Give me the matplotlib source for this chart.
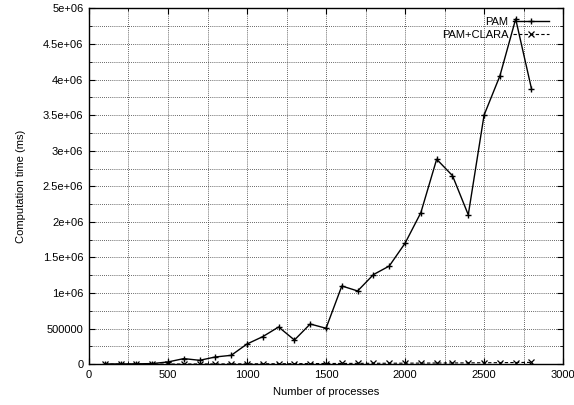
import matplotlib
matplotlib.use("Agg")
import matplotlib.pyplot as plt
from matplotlib.ticker import MultipleLocator, FixedLocator, FixedFormatter

plt.rcParams['font.family'] = ['Liberation Sans', 'DejaVu Sans']
plt.rcParams['font.size'] = 8

processes = [100, 200, 300, 400, 500, 600, 700, 800, 900, 1000,
             1100, 1200, 1300, 1400, 1500, 1600, 1700, 1800, 1900, 2000,
             2100, 2200, 2300, 2400, 2500, 2600, 2700, 2800]
pam = [4000, 5000, 6000, 10000, 33000, 80000, 56000, 103000, 126000, 285000,
       389000, 524000, 341000, 566000, 506000, 1100000, 1030000, 1260000, 1380000, 1700000,
       2130000, 2880000, 2650000, 2100000, 3500000, 4050000, 4850000, 3870000]
pam_clara = [1000, 1500, 2000, 2500, 3000, 4000, 5000, 5000, 6000, 7000,
             7500, 8000, 9000, 10000, 11000, 12000, 13000, 14000, 15000, 16000,
             17000, 18000, 19000, 20000, 22000, 23000, 25000, 27000]

x_ticks = [0, 500, 1000, 1500, 2000, 2500, 3000]
x_tick_labels = ["0", "500", "1000", "1500", "2000", "2500", "3000"]
y_ticks = [0, 500000, 1000000, 1500000, 2000000, 2500000, 3000000,
           3500000, 4000000, 4500000, 5000000]
y_tick_labels = ["0", "500000", "1e+06", "1.5e+06", "2e+06", "2.5e+06", "3e+06",
                 "3.5e+06", "4e+06", "4.5e+06", "5e+06"]

fig = plt.figure(figsize=(5.74, 4.05), dpi=100)
ax = fig.add_axes([0.155, 0.1005, 0.826, 0.879])

ax.plot(processes, pam, color='black', linewidth=1.0, marker='+',
        markersize=5, markeredgewidth=1.0, label='PAM')
ax.plot(processes, pam_clara, color='black', linewidth=0.8, linestyle=(0, (3, 2)),
        marker='x', markersize=4, markeredgewidth=0.9, label='PAM+CLARA')

ax.set_xlim(0, 3000)
ax.set_ylim(0, 5000000)
ax.xaxis.set_major_locator(FixedLocator(x_ticks))
ax.xaxis.set_major_formatter(FixedFormatter(x_tick_labels))
ax.yaxis.set_major_locator(FixedLocator(y_ticks))
ax.yaxis.set_major_formatter(FixedFormatter(y_tick_labels))
ax.xaxis.set_minor_locator(MultipleLocator(250))
ax.yaxis.set_minor_locator(MultipleLocator(250000))

ax.tick_params(which='both', direction='in', top=True, right=True,
               labelsize=8, colors='black')
ax.tick_params(which='major', length=4, width=0.8, pad=4)
ax.tick_params(which='minor', length=2, width=0.6)

ax.grid(which='both', linestyle=(0, (1, 1.5)), color='#333333', linewidth=0.6)
ax.set_axisbelow(True)
for sp in ax.spines.values():
    sp.set_linewidth(1.0)

ax.set_xlabel('Number of processes', fontsize=8, labelpad=5)
ax.set_ylabel('Computation time (ms)', fontsize=8, labelpad=12)

ax.legend(loc='upper right', bbox_to_anchor=(0.985, 0.995), frameon=False,
          markerfirst=False, handlelength=3.3, handletextpad=0.4,
          labelspacing=0.25, fontsize=8, borderaxespad=0.2)

fig.savefig('out.png', dpi=100)
